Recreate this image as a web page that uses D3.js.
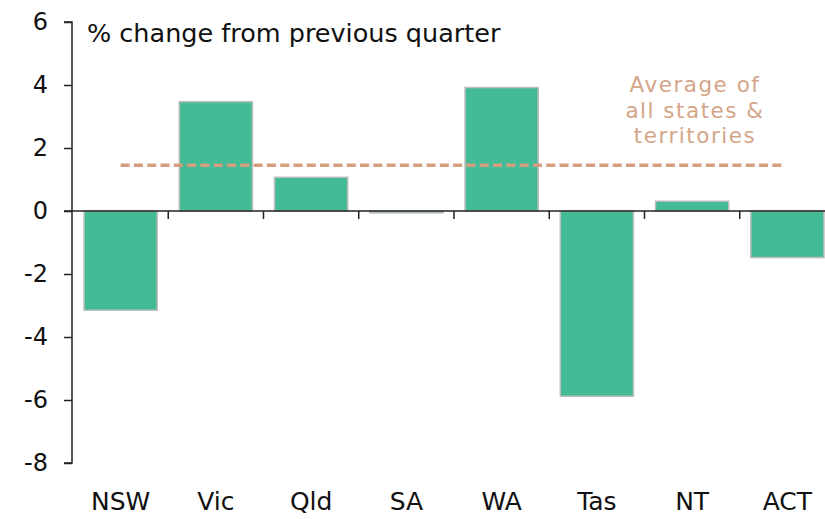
<!DOCTYPE html>
<html>
<head>
<meta charset="utf-8">
<script src="https://cdn.jsdelivr.net/npm/d3@7"></script>
<style>
  body { margin: 0; background: #fff; }
  svg { display: block; font-family: 'DejaVu Sans', sans-serif; }
</style>
</head>
<body>
<svg width="825" height="519"></svg>
<script>
const states  = ['NSW', 'Vic', 'Qld', 'SA', 'WA', 'Tas', 'NT', 'ACT'];
const changes = [-3.15, 3.47, 1.07, -0.06, 3.92, -5.88, 0.31, -1.48];
const average = 1.45;
const yTicks  = [-8, -6, -4, -2, 0, 2, 4, 6];
const noteLines = ['Average of', 'all states &', 'territories'];

const svg = d3.select('svg');
const font = "'DejaVu Sans', sans-serif";

const x = d3.scaleBand()                 // band per state
  .domain(states)
  .range([73, 835])
  .paddingInner(0.232)
  .paddingOuter(0.116);

const y = d3.scaleLinear()
  .domain([-8, 6])
  .range([463, 22]);

const step = x.step();

// bars
svg.append('g')
  .selectAll('rect')
  .data(states)
  .enter()
  .append('rect')
    .attr('x', d => x(d))
    .attr('width', x.bandwidth())
    .attr('y', (d, i) => y(Math.max(0, changes[i])))
    .attr('height', (d, i) => Math.abs(y(changes[i]) - y(0)))
    .attr('fill', '#44bb97')
    .attr('stroke', '#bdbdbd')
    .attr('stroke-width', 1.5);

// y axis
const yAxis = d3.axisLeft(y).tickValues(yTicks).tickSize(8).tickPadding(16).tickFormat(d => String(d));
const yAxisG = svg.append('g')
  .attr('transform', 'translate(72,0)')
  .call(yAxis);
yAxisG.select('.domain').attr('stroke', '#222').attr('stroke-width', 1.5).attr('d', `M-8,${y(6)}H0V${y(-8)}H-8`);
yAxisG.selectAll('.tick line').attr('stroke', '#222').attr('stroke-width', 1.5);
yAxisG.selectAll('.tick text')
  .attr('fill', '#111')
  .style('font-size', '24px')
  .style('font-family', font);

// zero line with ticks between categories
svg.append('line')
  .attr('x1', 64).attr('x2', 825)
  .attr('y1', y(0)).attr('y2', y(0))
  .attr('stroke', '#222').attr('stroke-width', 1.5);

svg.append('g')
  .selectAll('line')
  .data(states.slice(0, -1))
  .enter()
  .append('line')
    .attr('x1', d => x(d) + x.bandwidth() + (step - x.bandwidth()) / 2)
    .attr('x2', d => x(d) + x.bandwidth() + (step - x.bandwidth()) / 2)
    .attr('y1', y(0)).attr('y2', y(0) + 8)
    .attr('stroke', '#222').attr('stroke-width', 1.5);

// category labels
svg.append('g')
  .selectAll('text')
  .data(states)
  .enter()
  .append('text')
    .attr('x', d => x(d) + x.bandwidth() / 2)
    .attr('y', 510)
    .attr('text-anchor', 'middle')
    .style('font-size', '25px')
    .attr('fill', '#111')
    .text(d => d);

// average dashed line
svg.append('line')
  .attr('x1', x(states[0]) + x.bandwidth() / 2)
  .attr('x2', x(states[states.length - 1]) + x.bandwidth() / 2 - 4)
  .attr('y1', y(average)).attr('y2', y(average))
  .attr('stroke', '#d49e7f')
  .attr('stroke-width', 3.5)
  .attr('stroke-dasharray', '9,4.3');

// annotation, one text per line
svg.append('g')
  .selectAll('text')
  .data(noteLines)
  .enter()
  .append('text')
    .attr('x', 695)
    .attr('y', (d, i) => 92 + i * 25.5)
    .attr('text-anchor', 'middle')
    .attr('fill', '#d4a587')
    .style('font-size', '21.5px')
    .style('letter-spacing', '1.5px')
    .text(d => d);

// unit label
svg.append('text')
  .attr('x', 87)
  .attr('y', 42)
  .attr('fill', '#111')
  .style('font-size', '25.5px')
  .text('% change from previous quarter');
</script>
</body>
</html>
